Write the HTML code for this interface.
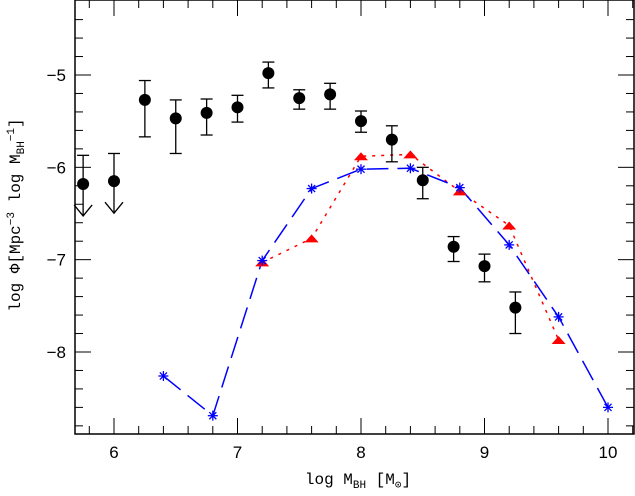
<!DOCTYPE html>
<html><head><meta charset="utf-8"><style>
body{margin:0;background:#fff}
svg text{font-family:"Liberation Sans","DejaVu Sans",sans-serif;font-size:17px;fill:#000}
svg text.ttl{font-family:"Liberation Mono","DejaVu Sans Mono",monospace;font-size:16px}
</style></head><body>
<svg id="c" width="635" height="491" xmlns="http://www.w3.org/2000/svg">
<rect x="75" y="0" width="559" height="434" fill="none" stroke="#000" stroke-width="1.5"/>
<g id="ticks"></g><g id="series"></g>
<text class="ttl" x="358" y="484" text-anchor="middle">log M<tspan font-size="11" dy="4">BH</tspan><tspan dy="-4"> [M</tspan><tspan font-size="11" dy="4">⊙</tspan><tspan dy="-4">]</tspan></text>
<text class="ttl" transform="translate(20,215) rotate(-90)" text-anchor="middle">log Φ[Mpc<tspan font-size="11" dy="-6">−3</tspan><tspan dy="6"> log M</tspan><tspan font-size="11" dy="4">BH</tspan><tspan font-size="11" dy="-10">−1</tspan><tspan dy="6">]</tspan></text>
</svg>
<script>
const xTicks=[6,7,8,9,10];
const yTicks=[-5,-6,-7,-8];
const obsX=[5.75,6.0,6.25,6.5,6.75,7.0,7.25,7.5,7.75,8.0,8.25,8.5,8.75,9.0,9.25];
const obsY=[-6.18,-6.15,-5.27,-5.47,-5.41,-5.35,-4.98,-5.25,-5.21,-5.50,-5.70,-6.14,-6.86,-7.07,-7.52];
const obsHi=[-5.87,-5.85,-5.06,-5.27,-5.26,-5.22,-4.86,-5.16,-5.09,-5.39,-5.55,-6.0,-6.75,-6.94,-7.35];
const obsLo=[-6.18,-6.15,-5.67,-5.85,-5.65,-5.51,-5.14,-5.37,-5.37,-5.62,-5.94,-6.34,-7.02,-7.24,-7.80];
const upperLimit=[true,true,false,false,false,false,false,false,false,false,false,false,false,false,false];
const modelX=[6.4,6.8,7.2,7.6,8.0,8.4,8.8,9.2,9.6,10.0];
const modelY=[-8.26,-8.69,-7.01,-6.23,-6.02,-6.01,-6.22,-6.84,-7.62,-8.6];
const triX=[7.2,7.6,8.0,8.4,8.8,9.2,9.6];
const triY=[-7.03,-6.77,-5.88,-5.86,-6.26,-6.63,-7.87];
const X=v=>114+(v-6)*123.5, Y=v=>75+(-5-v)*92.33;
const NS="http://www.w3.org/2000/svg";
function mk(tag,attrs,parent){const e=document.createElementNS(NS,tag);for(const k in attrs)e.setAttribute(k,attrs[k]);parent.appendChild(e);return e;}
const T=document.getElementById('ticks'),S=document.getElementById('series');
for(let v=5.8;v<10.21;v+=0.2){const px=X(v);const maj=Math.abs(v-Math.round(v))<0.01;
 const l=mk('line',{x1:px,x2:px,y1:434,y2:434-(maj?16:8),stroke:'#000'},T);
 const l2=mk('line',{x1:px,x2:px,y1:0,y2:maj?16:8,stroke:'#000'},T);}
for(let v=-4.4;v>-8.81;v-=0.2){const py=Y(v);const maj=Math.abs(v-Math.round(v))<0.01;
 const l=mk('line',{x1:75,x2:75+(maj?16:8),y1:py,y2:py,stroke:'#000'},T);
 const l2=mk('line',{x1:634,x2:634-(maj?16:8),y1:py,y2:py,stroke:'#000'},T);}
xTicks.forEach(v=>{const t=mk('text',{x:X(v),y:458,'text-anchor':'middle'},T);t.textContent=v;});
yTicks.forEach(v=>{const t=mk('text',{x:66,y:Y(v)+6,'text-anchor':'end'},T);t.textContent='−'+Math.abs(v);});
const rl=mk('polyline',{points:triX.map((v,i)=>X(v)+','+Y(triY[i])).join(' '),fill:'none',stroke:'#f00','stroke-width':1.5,'stroke-dasharray':'3 6'},S);

const bl=mk('polyline',{points:modelX.map((v,i)=>X(v)+','+Y(modelY[i])).join(' '),fill:'none',stroke:'#00f','stroke-width':1.5,'stroke-dasharray':'22 9'},S);

triX.forEach((v,i)=>{const x=X(v),y=Y(triY[i]);const p=mk('polygon',{points:`${x-7},${y+4} ${x+7},${y+4} ${x},${y-4}`,fill:'#f00'},S);});
modelX.forEach((v,i)=>{const x=X(v),y=Y(modelY[i]);const g=mk('g',{stroke:'#00f','stroke-width':1.3},S);
 for(let a=0;a<4;a++){const an=a*Math.PI/4;mk('line',{x1:x-5*Math.cos(an),y1:y-5*Math.sin(an),x2:x+5*Math.cos(an),y2:y+5*Math.sin(an)},g);}});
obsX.forEach((v,i)=>{const x=X(v);const g=mk('g',{stroke:'#000','stroke-width':1.3},S);
 const yh=Y(obsHi[i]);mk('line',{x1:x,x2:x,y1:yh,y2:Y(obsY[i])},g);mk('line',{x1:x-6,x2:x+6,y1:yh,y2:yh},g);
 if(upperLimit[i]){const ya=Y(obsY[i])+32;mk('line',{x1:x,x2:x,y1:Y(obsY[i]),y2:ya},g);mk('polyline',{points:`${x-9},${ya-11} ${x},${ya} ${x+9},${ya-11}`,fill:'none'},g);}
 else{const yl=Y(obsLo[i]);mk('line',{x1:x,x2:x,y1:Y(obsY[i]),y2:yl},g);mk('line',{x1:x-6,x2:x+6,y1:yl,y2:yl},g);}
 mk('circle',{cx:x,cy:Y(obsY[i]),r:6,fill:'#000',stroke:'none'},g);});
</script>
</body></html>
